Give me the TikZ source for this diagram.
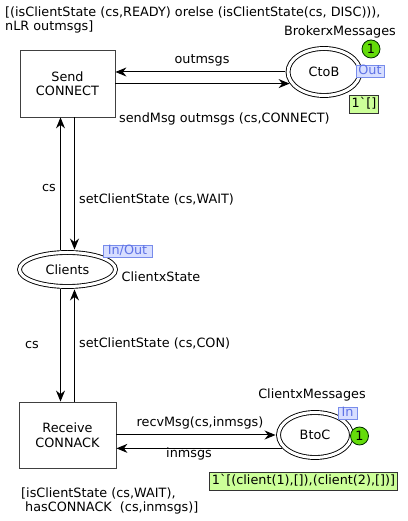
\documentclass[tikz,border=0pt]{standalone}
\usepackage{fontspec}
\setmainfont{DejaVu Sans}[Ligatures=TeXOff]
\usetikzlibrary{arrows.meta,shapes.geometric}
\definecolor{tokgreen}{RGB}{204,255,153}
\definecolor{cntgreen}{RGB}{100,220,10}
\definecolor{portfill}{RGB}{215,222,255}
\definecolor{portdraw}{RGB}{120,140,235}
\definecolor{porttext}{RGB}{95,115,230}
\begin{document}
\begin{tikzpicture}[x=1pt,y=1pt,
  every node/.style={font=\fontsize{12.8}{14.5}\selectfont, inner sep=0pt},
  trans/.style={draw=black!75, line width=0.85pt, minimum width=95pt, minimum height=67pt, align=center},
  place/.style={ellipse, draw=black, double=white, double distance=3pt, line width=0.9pt, align=center},
  arc/.style={-{Stealth[length=11pt,width=9pt]}, line width=1pt},
  port/.style={draw=portdraw, fill=portfill, text=porttext, line width=0.8pt, minimum height=12pt, text height=8.5pt, text depth=1.5pt},
  count/.style={circle, draw=black!70!green!60!black, fill=cntgreen, minimum size=18pt, line width=0.8pt},
  token/.style={draw=black!80, fill=tokgreen, line width=0.8pt, inner xsep=2.5pt, text height=9.5pt, text depth=3pt, inner ysep=2.5pt}
]
\useasboundingbox (0,0) rectangle (407,521);

% transitions and places
\node[trans] (send) at (67.5,437.5) {Send\\CONNECT};
\node[trans, minimum width=97pt, minimum height=66pt] (recv) at (67.5,86) {Receive\\CONNACK};
\node[place, minimum width=72pt, minimum height=47pt] (ctob) at (324,449) {CtoB};
\node[place, minimum width=96pt, minimum height=34pt] (clients) at (67.5,251.5) {Clients};
\node[place, minimum width=73pt, minimum height=45pt] (btoc) at (315,86) {BtoC};

% arcs
\draw[arc, shorten <=2.5pt] ([xshift=-7pt]clients.north) -- ([xshift=-7pt]send.south);
\draw[arc, shorten >=2.5pt] ([xshift=7pt]send.south) -- ([xshift=7pt]clients.north);
\draw[arc, shorten <=2.5pt] ([xshift=-7pt]clients.south) -- ([xshift=-7pt]recv.north);
\draw[arc, shorten >=2.5pt] ([xshift=7pt]recv.north) -- ([xshift=7pt]clients.south);
\draw[arc, shorten <=2.5pt] (ctob.west) -- (ctob.west -| send.east);
\draw[arc, shorten >=2.5pt] (send.east |- ctob.200) -- (ctob.200);
\draw[arc, shorten >=2.5pt] (recv.east) -- (btoc.west);
\draw[arc, shorten <=2.5pt] (btoc.204) -- (btoc.204 -| recv.east);

% arc inscriptions
\node (a1) at (202,461) {outmsgs};
\node[anchor=west] (a2) at (119,402) {sendMsg outmsgs (cs,CONNECT)};
\node (a3) at (49,333) {cs};
\node[anchor=west] (a4) at (79,322) {setClientState (cs,WAIT)};
\node (a5) at (32,176) {cs};
\node[anchor=west] (a6) at (79,178) {setClientState (cs,CON)};
\node (a7) at (200,98) {recvMsg(cs,inmsgs)};
\node (a8) at (189,67) {inmsgs};

% colour sets
\node (s1) at (340,489) {BrokerxMessages};
\node (s2) at (161,244) {ClientxState};
\node (s3) at (312,126) {ClientxMessages};

% port tags
\node[port, minimum width=28pt] (pout) at (370,450) {Out};
\node[port, minimum width=49pt] (pio) at (127.5,270) {In/Out};
\node[port, minimum width=19pt] (pin) at (347.5,108) {In};

% markings
\node[count] (c1) at (371,472) {1};
\node[count] (c2) at (359.5,85) {1};
\node[token] (t1) at (364,416.5) {1`[]};
\node[token] (t2) at (303.5,39.5) {1`[(client(1),[]),(client(2),[])]};

% guards
\node[anchor=west, align=left] (g1) at (5,501) {[(isClientState (cs,READY) orelse (isClientState(cs, DISC))),\\nLR outmsgs]};
\node[anchor=west, align=left] (g2) at (21,20) {[isClientState (cs,WAIT),\\\hspace{4pt}hasCONNACK\ \ (cs,inmsgs)]};
\end{tikzpicture}
\end{document}
